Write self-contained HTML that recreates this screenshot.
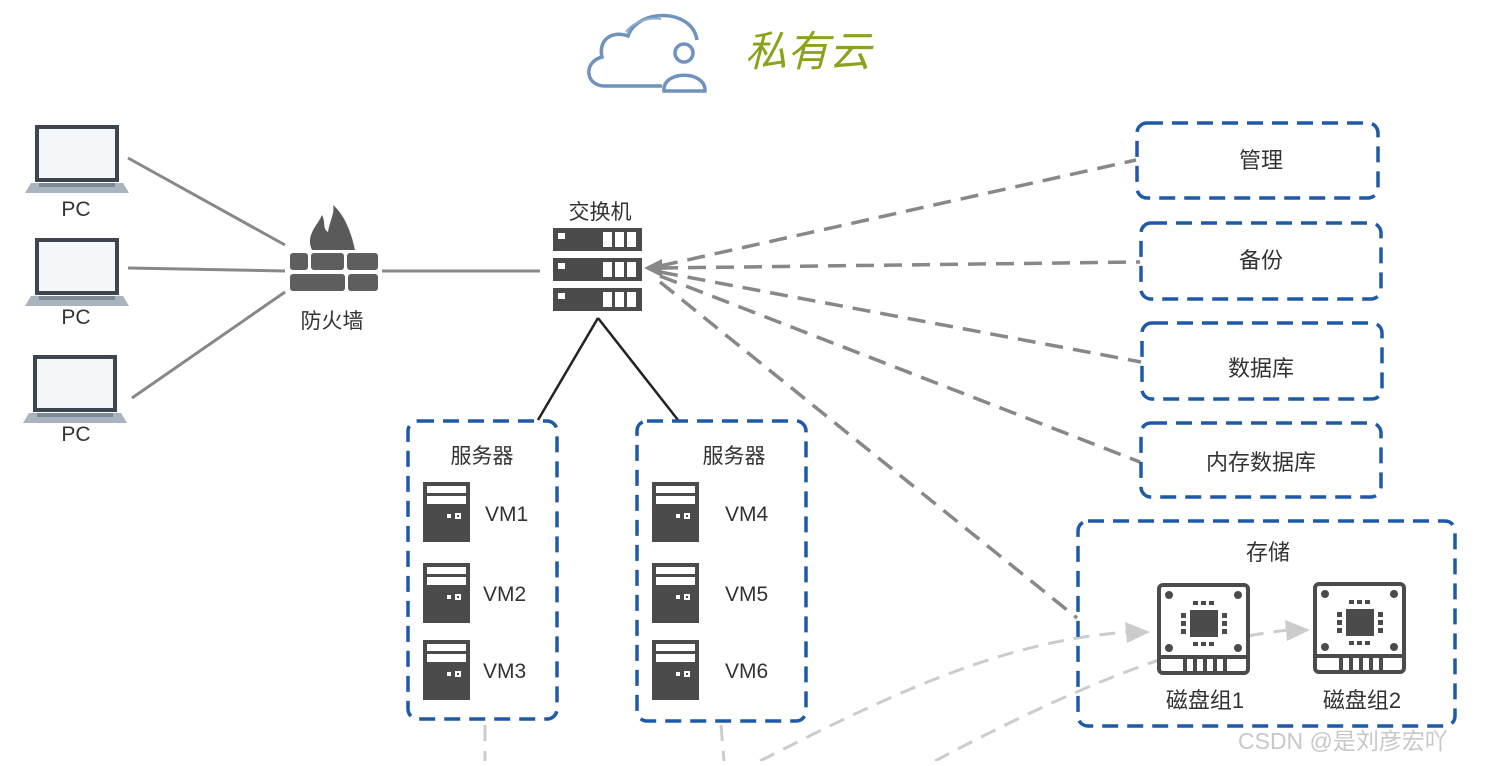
<!DOCTYPE html>
<html><head><meta charset="utf-8"><style>
html,body{margin:0;padding:0;background:#fff;}
svg text{font-family:"Liberation Sans","Noto Sans CJK SC",sans-serif;fill:#333;}
</style></head><body>
<svg width="1495" height="761" viewBox="0 0 1495 761" xmlns="http://www.w3.org/2000/svg">
<defs>
<g id="pc">
 <rect x="0" y="0" width="80" height="53" fill="#f4f8fb" stroke="#3d4550" stroke-width="4"/>
 <path d="M-6 56 L86 56 L92 66 L-12 66 Z" fill="#a9b4be"/>
 <rect x="2" y="56" width="76" height="4" fill="#7d8a96"/>
</g>
<g id="srv">
 <rect x="0" y="0" width="47" height="60" fill="#4b4b4b"/>
 <rect x="4" y="4" width="39" height="7" fill="#fff"/>
 <rect x="4" y="14" width="39" height="8" fill="#fff"/>
 <rect x="24" y="32" width="4" height="4" fill="#fff"/>
 <rect x="32" y="31" width="6" height="6" fill="#fff"/>
 <rect x="34" y="33" width="2" height="2" fill="#4b4b4b"/>
</g>
<g id="unit">
 <rect x="0" y="0" width="89" height="23" fill="#4b4b4b"/>
 <rect x="5" y="5" width="7" height="6" fill="#fff"/>
 <rect x="50" y="4" width="9" height="15" fill="#fff"/>
 <rect x="62" y="4" width="9" height="15" fill="#fff"/>
 <rect x="74" y="4" width="9" height="15" fill="#fff"/>
</g>
<g id="chip">
 <rect x="2" y="2" width="89" height="88" rx="4" fill="#fff" stroke="#4b4b4b" stroke-width="4"/>
 <circle cx="12" cy="12" r="4" fill="#4b4b4b"/><circle cx="81" cy="12" r="4" fill="#4b4b4b"/>
 <circle cx="12" cy="65" r="4" fill="#4b4b4b"/><circle cx="81" cy="65" r="4" fill="#4b4b4b"/>
 <rect x="33" y="27" width="28" height="27" fill="#4b4b4b"/>
 <rect x="36" y="18" width="5" height="4" fill="#4b4b4b"/><rect x="44" y="18" width="5" height="4" fill="#4b4b4b"/><rect x="52" y="18" width="5" height="4" fill="#4b4b4b"/>
 <rect x="36" y="59" width="5" height="4" fill="#4b4b4b"/><rect x="44" y="59" width="5" height="4" fill="#4b4b4b"/><rect x="52" y="59" width="5" height="4" fill="#4b4b4b"/>
 <rect x="24" y="30" width="5" height="5" fill="#4b4b4b"/><rect x="24" y="38" width="5" height="5" fill="#4b4b4b"/><rect x="24" y="46" width="5" height="5" fill="#4b4b4b"/>
 <rect x="65" y="30" width="5" height="5" fill="#4b4b4b"/><rect x="65" y="38" width="5" height="5" fill="#4b4b4b"/><rect x="65" y="46" width="5" height="5" fill="#4b4b4b"/>
 <rect x="2" y="72" width="89" height="4" fill="#4b4b4b"/>
 <rect x="26" y="74" width="4" height="14" fill="#4b4b4b"/><rect x="36" y="74" width="4" height="14" fill="#4b4b4b"/><rect x="46" y="74" width="4" height="14" fill="#4b4b4b"/><rect x="56" y="74" width="4" height="14" fill="#4b4b4b"/><rect x="66" y="74" width="4" height="14" fill="#4b4b4b"/>
</g>
</defs>

<!-- cloud -->
<path d="M662 86 L605 86 C585 86 583 62 602 57 C598 40 612 30 628 36 C638 8 692 8 697 40" fill="none" stroke="#6f93bd" stroke-width="3.5"/>
<path d="M626 32 C633 22 648 17 661 19" fill="none" stroke="#8eaed0" stroke-width="2"/>
<circle cx="684" cy="53" r="9" fill="none" stroke="#6f93bd" stroke-width="3.5"/>
<path d="M664 91 C662 70 706 70 705 91 Z" fill="none" stroke="#6f93bd" stroke-width="3.5"/>
<text x="745" y="66" font-size="42" font-style="italic" style="fill:#8da21c">私有云</text>

<!-- PCs -->
<use href="#pc" x="37" y="127"/><text x="76" y="216" font-size="21" text-anchor="middle">PC</text>
<use href="#pc" x="37" y="240"/><text x="76" y="324" font-size="21" text-anchor="middle">PC</text>
<use href="#pc" x="35" y="357"/><text x="76" y="441" font-size="21" text-anchor="middle">PC</text>

<g stroke="#888" stroke-width="3">
<line x1="128" y1="158" x2="285" y2="245"/>
<line x1="128" y1="268" x2="285" y2="271"/>
<line x1="132" y1="398" x2="285" y2="292"/>
<line x1="382" y1="271" x2="540" y2="271"/>
</g>

<!-- firewall -->
<path d="M312 250 C305 235 318 225 322 215 C326 222 322 228 328 232 C330 220 335 213 333 205 C345 215 352 235 355 250 Z" fill="#5a5a5a"/>
<g fill="#5e5e5e">
<rect x="290" y="253" width="18" height="17" rx="3"/><rect x="311" y="253" width="33" height="17" rx="3"/><rect x="347" y="253" width="31" height="17" rx="3"/>
<rect x="290" y="274" width="55" height="17" rx="3"/><rect x="348" y="274" width="30" height="17" rx="3"/>
</g>
<text x="332" y="328" font-size="21" text-anchor="middle">防火墙</text>

<!-- switch -->
<text x="600" y="219" font-size="21" text-anchor="middle">交换机</text>
<use href="#unit" x="553" y="228"/><use href="#unit" x="553" y="258"/><use href="#unit" x="553" y="288"/>
<g stroke="#222" stroke-width="2.5"><line x1="598" y1="318" x2="538" y2="420"/><line x1="598" y1="318" x2="678" y2="420"/></g>

<!-- dashed gray lines -->
<g stroke="#888" stroke-width="3.5" stroke-dasharray="18,10" fill="none">
<line x1="660" y1="266" x2="1136" y2="160"/>
<line x1="660" y1="268" x2="1140" y2="262"/>
<line x1="660" y1="272" x2="1141" y2="362"/>
<line x1="660" y1="276" x2="1140" y2="462"/>
<line x1="660" y1="282" x2="1077" y2="618"/>
</g>
<path d="M644 268 L662 259 L662 277 Z" fill="#888"/>

<!-- light gray bottom lines -->
<g stroke="#ccc" stroke-width="3" stroke-dasharray="16,10" fill="none">
<line x1="485" y1="725" x2="485" y2="761"/>
<line x1="721" y1="725" x2="724" y2="761"/>
<path d="M760 761 C880 700 1000 640 1130 632"/>
<path d="M935 761 C1050 700 1180 640 1290 630"/>
</g>
<path d="M1150 632 L1125 622 L1127 643 Z" fill="#ccc"/>
<path d="M1310 630 L1285 620 L1287 641 Z" fill="#ccc"/>

<!-- boxes -->
<g fill="none" stroke="#1f5aa8" stroke-width="3.5" stroke-dasharray="16,9">
<rect x="408" y="421" width="149" height="298" rx="10"/>
<rect x="637" y="421" width="169" height="300" rx="10"/>
<rect x="1137" y="123" width="241" height="75" rx="10"/>
<rect x="1141" y="223" width="240" height="76" rx="10"/>
<rect x="1142" y="323" width="240" height="76" rx="10"/>
<rect x="1141" y="423" width="240" height="74" rx="10"/>
<rect x="1078" y="521" width="377" height="205" rx="10"/>
</g>
<text x="482" y="463" font-size="21" text-anchor="middle">服务器</text>
<text x="734" y="463" font-size="21" text-anchor="middle">服务器</text>
<use href="#srv" x="423" y="482"/><use href="#srv" x="423" y="563"/><use href="#srv" x="423" y="640"/>
<use href="#srv" x="652" y="482"/><use href="#srv" x="652" y="563"/><use href="#srv" x="652" y="640"/>
<g font-size="21"><text x="485" y="521">VM1</text><text x="483" y="601">VM2</text><text x="483" y="678">VM3</text>
<text x="725" y="521">VM4</text><text x="725" y="601">VM5</text><text x="725" y="678">VM6</text></g>

<g font-size="22" text-anchor="middle">
<text x="1261" y="168">管理</text><text x="1261" y="268">备份</text>
<text x="1261" y="376">数据库</text><text x="1261" y="470">内存数据库</text>
<text x="1268" y="560">存储</text>
<text x="1205" y="708">磁盘组1</text><text x="1362" y="708">磁盘组2</text>
</g>
<use href="#chip" x="1157" y="583"/><use href="#chip" x="1313" y="582"/>

<text x="1238" y="749" font-size="23" style="fill:#c8c8c8">CSDN @是刘彦宏吖</text>
</svg>
</body></html>
